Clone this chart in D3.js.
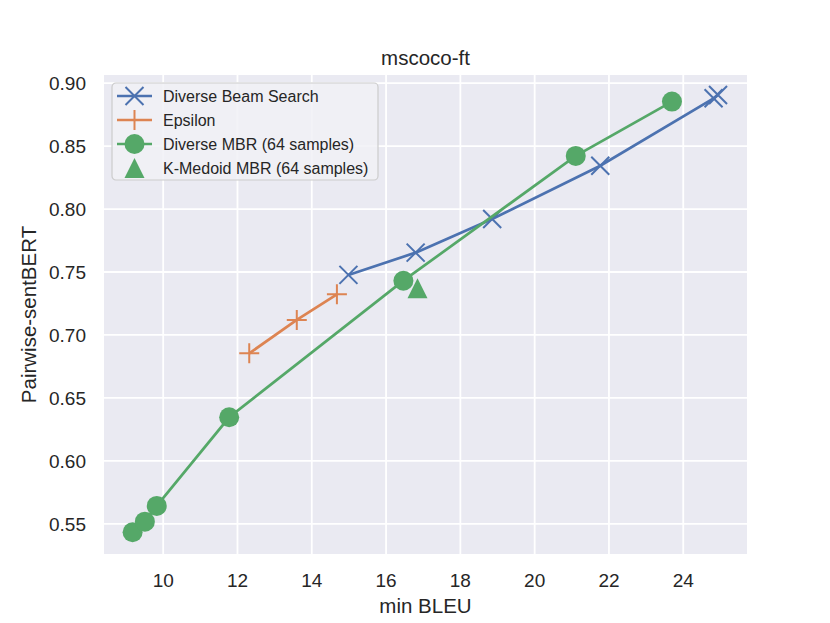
<!DOCTYPE html>
<html>
<head>
<meta charset="utf-8">
<title>mscoco-ft</title>
<script src="https://d3js.org/d3.v7.min.js"></script>
<style>
  body { margin: 0; background: #fff; }
  svg { font-family: "Liberation Sans", Arial, Helvetica, sans-serif; }
</style>
</head>
<body>
<svg id="chart"></svg>
<script>
// data
const dbsX = [15.0, 16.81, 18.87, 21.78, 24.83, 24.95];
const dbsY = [0.7473, 0.765, 0.7917, 0.834, 0.8876, 0.8902];

const epsX = [12.33, 13.61, 14.69];
const epsY = [0.685, 0.7115, 0.7319];

const mbrX = [9.19, 9.52, 9.84, 11.79, 16.48, 21.12, 23.71];
const mbrY = [0.5429, 0.5513, 0.5638, 0.6342, 0.7427, 0.8418, 0.885];

const kmedX = [16.86];
const kmedY = [0.7367];

const xTicks = [10, 12, 14, 16, 18, 20, 22, 24];
const yTicks = [0.55, 0.60, 0.65, 0.70, 0.75, 0.80, 0.85, 0.90];

const legendLabels = ['Diverse Beam Search', 'Epsilon', 'Diverse MBR (64 samples)', 'K-Medoid MBR (64 samples)'];

const W = 830, H = 623;
const pLeft = 104, pRight = 747, pTop = 75, pBottom = 554;

const blue = '#4C72B0', orange = '#DD8452', green = '#55A868';

const svg = d3.select('#chart').attr('width', W).attr('height', H);

const x = d3.scaleLinear().domain([8.42, 25.73]).range([pLeft, pRight]);
const y = d3.scaleLinear().domain([0.5256, 0.9061]).range([pBottom, pTop]);

// background
svg.append('rect')
  .attr('x', pLeft).attr('y', pTop)
  .attr('width', pRight - pLeft).attr('height', pBottom - pTop)
  .style('fill', '#EAEAF2');

// grid via axes
const xAxis = svg.append('g')
  .attr('transform', `translate(0,${pBottom})`)
  .call(d3.axisBottom(x).tickValues(xTicks).tickFormat(d3.format('d'))
    .tickSize(-(pBottom - pTop)).tickPadding(19));
const yAxis = svg.append('g')
  .attr('transform', `translate(${pLeft},0)`)
  .call(d3.axisLeft(y).tickValues(yTicks).tickFormat(d3.format('.2f'))
    .tickSize(-(pRight - pLeft)).tickPadding(18));

[xAxis, yAxis].forEach(a => {
  a.select('.domain').remove();
  a.selectAll('.tick line').style('stroke', '#fff').style('stroke-width', 1.8);
  a.selectAll('.tick text').style('font-size', '19px').style('fill', '#262626')
    .style('font-family', '"Liberation Sans", Arial, sans-serif');
});
xAxis.selectAll('.tick text').attr('dy', null).attr('y', 0)
  .attr('transform', 'translate(0,32.5)');
yAxis.selectAll('.tick text').attr('dy', '0.36em');

const line = d3.line().x(d => x(d[0])).y(d => y(d[1]));
const zip = (a, b) => a.map((v, i) => [v, b[i]]);

const plot = svg.append('g');

function xMark(g, s, color) {
  g.append('path')
    .attr('d', `M${-s},${-s}L${s},${s}M${-s},${s}L${s},${-s}`)
    .style('stroke', color).style('stroke-width', 2).style('fill', 'none');
}
function plusMark(g, s, color) {
  g.append('path')
    .attr('d', `M${-s},0L${s},0M0,${-s}L0,${s}`)
    .style('stroke', color).style('stroke-width', 2).style('fill', 'none');
}
function circleMark(g, r, color) {
  g.append('circle').attr('r', r).style('fill', color);
}
function triMark(g, s, color) {
  g.append('path')
    .attr('d', `M0,${-s}L${s},${s}L${-s},${s}Z`)
    .style('fill', color);
}

function series(xs, ys, color, marker, withLine) {
  const pts = zip(xs, ys);
  if (withLine) {
    plot.append('path')
      .attr('d', line(pts))
      .style('stroke', color).style('stroke-width', 2.7).style('fill', 'none');
  }
  pts.forEach(p => {
    const g = plot.append('g').attr('transform', `translate(${x(p[0])},${y(p[1])})`);
    marker(g, color);
  });
}

series(dbsX, dbsY, blue, (g, c) => xMark(g, 9, c), true);
series(epsX, epsY, orange, (g, c) => plusMark(g, 10, c), true);
series(mbrX, mbrY, green, (g, c) => circleMark(g, 10, c), true);
series(kmedX, kmedY, green, (g, c) => triMark(g, 10, c), false);

// title and labels
svg.append('text')
  .attr('x', (pLeft + pRight) / 2).attr('y', 65)
  .attr('text-anchor', 'middle')
  .style('font-size', '20.5px').style('fill', '#262626')
  .text('mscoco-ft');

svg.append('text')
  .attr('x', (pLeft + pRight) / 2).attr('y', 613)
  .attr('text-anchor', 'middle')
  .style('font-size', '20.5px').style('fill', '#262626')
  .text('min BLEU');

svg.append('text')
  .attr('transform', `translate(36,${(pTop + pBottom) / 2}) rotate(-90)`)
  .attr('text-anchor', 'middle')
  .style('font-size', '20.5px').style('fill', '#262626')
  .text('Pairwise-sentBERT');

// legend
const lg = svg.append('g').attr('transform', 'translate(112,83)');
lg.append('rect')
  .attr('width', 266).attr('height', 97).attr('rx', 4)
  .style('fill', '#F1F1F6').style('fill-opacity', 0.85)
  .style('stroke', '#CCCCCC').style('stroke-width', 1.2);

const legendMarks = [
  { color: blue, marker: (g, c) => xMark(g, 9, c), line: true },
  { color: orange, marker: (g, c) => plusMark(g, 10, c), line: true },
  { color: green, marker: (g, c) => circleMark(g, 10, c), line: true },
  { color: green, marker: (g, c) => triMark(g, 10, c), line: false }
];

legendLabels.forEach((lab, i) => {
  const cy = 13 + i * 24;
  const m = legendMarks[i];
  if (m.line) {
    lg.append('line')
      .attr('x1', 5).attr('x2', 40).attr('y1', cy).attr('y2', cy)
      .style('stroke', m.color).style('stroke-width', 2.7);
  }
  const g = lg.append('g').attr('transform', `translate(22.5,${cy})`);
  m.marker(g, m.color);
  lg.append('text')
    .attr('x', 51).attr('y', cy).attr('dy', '0.36em')
    .style('font-size', '16px').style('fill', '#262626')
    .text(lab);
});
</script>
</body>
</html>
